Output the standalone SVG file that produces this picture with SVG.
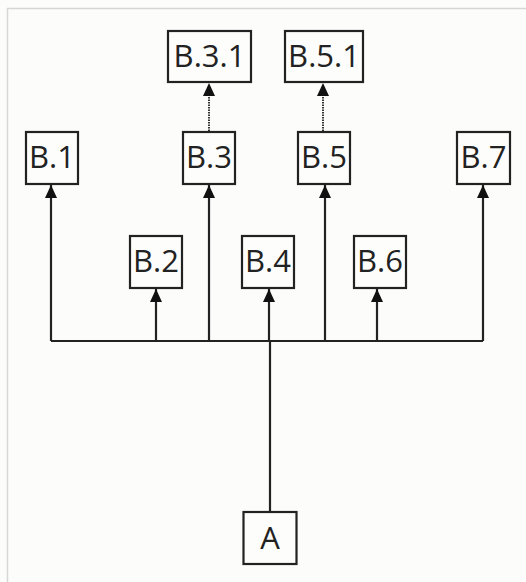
<svg xmlns="http://www.w3.org/2000/svg" width="526" height="582" viewBox="0 0 526 582">
<defs>
<style>
.bg{fill:#fcfcfa}
.box{fill:#fdfdfb;stroke:#222;stroke-width:2.2}
.lbl{font-family:"Open Sans","Noto Sans",sans-serif;font-size:31px;fill:#222;text-anchor:middle}
.ln{fill:none;stroke:#222;stroke-width:2.2}
.dot{fill:none;stroke:#333;stroke-width:2;stroke-dasharray:1.5 1}
</style>
<marker id="arr" viewBox="0 0 13 12" refX="13" refY="6" markerWidth="13" markerHeight="12" markerUnits="userSpaceOnUse" orient="auto">
<path d="M0,0 L13,6 L0,12 Z" fill="#111"/>
</marker>
</defs>
<rect class="bg" x="0" y="0" width="526" height="582"/>
<path d="M7.5,582 V8.5 H526" fill="none" stroke="#d6d6d6" stroke-width="1.5"/>
<g id="connectors">
<path class="ln" d="M51,341 H483"/>
<path class="ln" d="M270,512 V341"/>
<path class="ln" d="M51,341 V185" marker-end="url(#arr)"/>
<path class="ln" d="M209,341 V185" marker-end="url(#arr)"/>
<path class="ln" d="M325,341 V185" marker-end="url(#arr)"/>
<path class="ln" d="M483,341 V185" marker-end="url(#arr)"/>
<path class="ln" d="M156,341 V289" marker-end="url(#arr)"/>
<path class="ln" d="M269,341 V289" marker-end="url(#arr)"/>
<path class="ln" d="M377,341 V289" marker-end="url(#arr)"/>
<path class="dot" d="M209,131 V96"/>
<path d="M203,96 L209,83 L215,96 Z" fill="#111"/>
<path class="dot" d="M323,131 V96"/>
<path d="M317,96 L323,83 L329,96 Z" fill="#111"/>
</g>
<g id="B31"><rect class="box" x="168" y="31" width="83" height="51"/><text class="lbl" x="209.5" y="67">B.3.1</text></g>
<g id="B51"><rect class="box" x="285" y="31" width="78" height="51"/><text class="lbl" x="324" y="67">B.5.1</text></g>
<g id="B1"><rect class="box" x="26" y="132" width="52" height="52"/><text class="lbl" x="52" y="168">B.1</text></g>
<g id="B3"><rect class="box" x="183" y="132" width="52" height="52"/><text class="lbl" x="209" y="168">B.3</text></g>
<g id="B5"><rect class="box" x="298" y="132" width="52" height="52"/><text class="lbl" x="324" y="168">B.5</text></g>
<g id="B7"><rect class="box" x="457" y="132" width="53" height="52"/><text class="lbl" x="483.5" y="168">B.7</text></g>
<g id="B2"><rect class="box" x="130" y="236" width="52" height="52"/><text class="lbl" x="156" y="272">B.2</text></g>
<g id="B4"><rect class="box" x="242" y="236" width="52" height="52"/><text class="lbl" x="268" y="272">B.4</text></g>
<g id="B6"><rect class="box" x="354" y="236" width="52" height="52"/><text class="lbl" x="380" y="272">B.6</text></g>
<g id="A"><rect class="box" x="243.5" y="512" width="53" height="52"/><text class="lbl" x="270" y="549">A</text></g>
</svg>
